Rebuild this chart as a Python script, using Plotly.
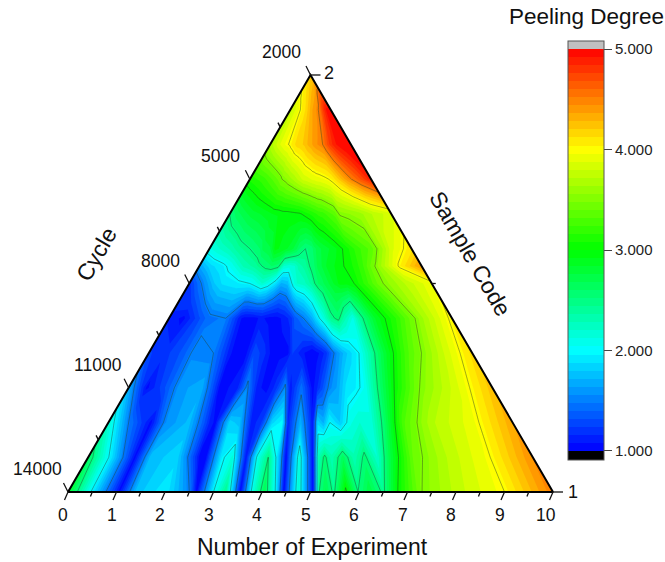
import plotly.graph_objects as go

# Position across each row, expressed on the bottom "Number of Experiment" scale
experiment = [0, .5, 1.05, 1.4, 2.0, 2.5, 2.65, 3.0, 3.25, 3.55, 3.8, 4.05, 4.3, 4.45, 4.75, 5.05,
              5.18, 5.32, 5.48, 5.73, 5.98, 6.22, 6.5, 6.8, 7.3, 8, 9, 10]
cycles = [2000, 3000, 4000, 5000, 6000, 7000, 7500, 8000, 9000, 10000, 11000, 12000, 13000, 14000]

z_2000 = [4.2] * 28
z_3000 = [3.75,3.8,3.85,3.9,3.95,4.0,4.02,4.05,4.08,4.1,4.13,4.17,4.2,4.23,4.27,4.3,4.32,4.34,4.36,4.38,4.4,4.42,4.45,4.48,4.55,4.75,4.95,5.0]
z_4000 = [3.65,3.75,3.85,3.9,3.98,4.02,4.05,4.1,4.15,4.17,4.18,4.2,4.22,4.25,4.3,4.33,4.35,4.38,4.4,4.43,4.45,4.47,4.5,4.6,4.75,4.9,5.0,5.0]
z_5000 = [3.1,3.15,3.2,3.25,3.35,3.45,3.5,3.55,3.6,3.65,3.7,3.75,3.8,3.83,3.85,3.88,3.9,3.9,3.92,3.93,3.95,3.97,4.0,4.05,4.2,4.4,4.65,4.9]
z_6000 = [2.5,2.65,2.75,2.8,2.85,2.9,2.92,2.93,2.95,2.95,2.96,2.97,2.98,3.0,3.05,3.1,3.12,3.15,3.18,3.2,3.25,3.3,3.35,3.52,3.55,3.6,3.75,3.85]
z_7000 = [2.1,2.2,2.3,2.4,2.5,2.6,2.7,2.75,2.95,2.9,2.85,2.8,2.7,2.6,2.5,2.55,2.65,2.7,2.75,2.8,2.85,2.9,2.98,3.05,3.2,3.35,3.85,4.1]
z_7500 = [1.65,1.85,1.95,2.05,2.3,2.4,2.45,2.55,2.6,2.55,2.2,2.15,2.2,2.3,2.4,2.55,2.6,2.7,2.75,2.85,2.9,2.95,3.0,3.05,3.2,3.55,4.03,4.4]
z_8000 = [1.2,1.5,1.8,1.9,1.95,2.0,2.05,2.2,2.1,1.9,1.7,1.75,2.1,2.2,2.25,2.4,2.5,2.6,2.65,2.75,2.85,2.95,2.95,3.0,3.2,3.5,3.75,3.95]
z_9000 = [1.15,1.05,1.3,1.45,1.5,1.1,1.05,1.05,1.1,1.05,1.05,1.1,1.2,1.35,1.5,1.7,1.85,2.0,2.15,2.45,2.55,2.3,2.1,2.45,2.85,3.15,3.65,4.05]
z_10000 = [1.25,1.2,1.35,1.55,1.5,1.1,1.05,1.05,1.3,1.2,1.05,1.05,1.05,1.25,1.1,1.0,1.05,1.1,1.2,1.5,1.7,1.85,2.0,2.3,2.8,3.3,3.75,4.15]
z_11000 = [1.7,1.05,1.35,1.6,1.7,1.05,1.05,1.15,1.55,1.1,1.05,1.2,1.55,1.1,1.45,1.05,1.15,1.3,1.5,1.65,1.9,1.95,2.05,2.45,3.0,3.5,3.85,4.25]
z_12000 = [2.2,1.5,1.05,1.55,1.75,1.15,1.05,1.85,1.75,1.1,1.25,1.85,2.0,1.15,1.7,1.1,1.85,1.7,2.0,1.8,2.1,2.2,2.15,2.55,3.3,3.7,3.93,4.35]
z_13000 = [2.65,1.95,1.05,1.75,1.85,1.05,1.05,1.95,2.15,1.1,2.05,2.5,1.75,1.05,2.15,1.05,2.3,2.55,2.3,2.65,2.3,2.55,2.2,2.75,3.4,3.7,3.98,4.45]
z_14000 = [2.85,1.95,1.05,1.75,1.95,1.5,1.05,2.0,2.45,1.05,2.1,2.7,1.9,1.05,2.2,1.05,2.5,2.7,2.45,3.05,2.5,2.75,2.45,3.0,3.5,3.75,4.0,4.5]
peeling = [z_2000, z_3000, z_4000, z_5000, z_6000, z_7000, z_7500, z_8000, z_9000, z_10000,
           z_11000, z_12000, z_13000, z_14000]

bottom_ticks = [0, 1, 2, 3, 4, 5, 6, 7, 8, 9, 10]
cycle_ticks = [2000, 5000, 8000, 11000, 14000]
colorbar_ticks = [1, 2, 3, 4, 5]

W, H = 665, 562
PX_X = 48.5            # pixels per experiment unit
PX_Y = 417 / 12000     # pixels per cycle
X_RANGE = [-68 / PX_X, (W - 68) / PX_X]
Y_RANGE = [14000 + (H - 492) / PX_Y, 14000 - 492 / PX_Y]
FONT = "Liberation Sans"


def frac(c):
    return (14000 - c) / 12000


def left_edge(c):
    return 5 * frac(c)


def right_edge(c):
    return 10 - 5 * frac(c)


xs = [[5 + (e - 5) * (1 - frac(c)) for e in experiment] for c in cycles]
ys = [[c for _ in experiment] for c in cycles]

colorscale = [
    [0, "#000000"], [0.0215, "#000000"], [0.0216, "#0000ff"],
    [0.2613, "#00ffff"], [0.5011, "#00ff00"], [0.7410, "#ffff00"],
    [0.9808, "#ff0000"], [0.9809, "#c0c0c0"], [1, "#c0c0c0"],
]

fig = go.Figure()
fig.add_trace(go.Carpet(
    a=experiment, b=cycles, x=xs, y=ys, carpet="tri",
    aaxis=dict(showgrid=False, showticklabels="none", showline=False, minorgridcount=0, startline=False, endline=False),
    baxis=dict(showgrid=False, showticklabels="none", showline=False, minorgridcount=0, startline=False, endline=False),
    xaxis="x", yaxis="y",
))
fig.add_trace(go.Contourcarpet(
    a=experiment, b=cycles, z=peeling, carpet="tri", autocontour=False,
    contours=dict(coloring="fill", start=0.92, end=5.08, size=0.08, showlines=False),
    line=dict(width=0, smoothing=0), colorscale=colorscale, zauto=False, zmin=0.91, zmax=5.08,
    colorbar=dict(
        lenmode="pixels", len=419, thicknessmode="pixels", thickness=36,
        x=568 / W, xanchor="left", xpad=0,
        y=1 - 41 / H, yanchor="top", ypad=0,
        outlinecolor="#555555", outlinewidth=1, ticks="outside", ticklen=8, tickcolor="#444444",
        tickvals=colorbar_ticks, tickformat=".3f", tickfont=dict(family=FONT, size=15, color="#222222"),
    ),
))
fig.add_trace(go.Contourcarpet(
    a=experiment, b=cycles, z=peeling, carpet="tri", autocontour=False,
    contours=dict(coloring="none", start=1.5, end=4.5, size=0.5),
    line=dict(width=0.8, color="rgba(40,60,40,0.55)", smoothing=0), showscale=False,
))

# triangle outline
fig.add_trace(go.Scatter(
    x=[left_edge(14000), left_edge(2000), right_edge(14000), left_edge(14000)],
    y=[14000, 2000, 14000, 14000], mode="lines", line=dict(color="#000000", width=2),
    hoverinfo="skip", showlegend=False,
))

# ticks
tx, ty = [], []
def tick(x, y, dx_px, dy_px):
    tx.extend([x, x + dx_px / PX_X, None])
    ty.extend([y, y - dy_px / PX_Y, None])

for i in range(21):
    v = i / 2
    major = i % 2 == 0
    tick(v, 14000, -3.5 if major else -1.8, -8 if major else -4.5)
for i in range(9):
    c = 2000 + 1500 * i
    major = i % 2 == 0
    tick(left_edge(c), c, -4.5 if major else -2.2, 9 if major else 4.5)
tick(right_edge(2000), 2000, 10, 0)
tick(right_edge(14000), 14000, 10, 0)
tick(right_edge(8000), 8000, 4, 0)
fig.add_trace(go.Scatter(x=tx, y=ty, mode="lines", line=dict(color="#111111", width=1.3),
                         hoverinfo="skip", showlegend=False))

ann = []
def label(x, y, text, xs_=0, ys_=0, size=17.5, angle=0):
    ann.append(dict(x=x, y=y, xref="x", yref="y", text=text, showarrow=False, xshift=xs_, yshift=ys_,
                    textangle=angle, font=dict(family=FONT, size=size, color="#111111")))

for v in bottom_ticks:
    label(v, 14000, str(v), -5 if v < 10 else -7, -23)
for c in cycle_ticks:
    label(left_edge(c), c, str(c), -29 if c < 10000 else -31, 23)
label(right_edge(2000), 2000, "2", 18, 2, 18)
label(right_edge(14000), 14000, "1", 20, 0, 18)
label(5, 14000, "Number of Experiment", 2, -55, 23)
label(left_edge(8000), 8000, "Cycle", -93, 30, 23, -60)
label(right_edge(8000), 8000, "Sample Code", 39, 30, 23, 60)
ann.append(dict(x=586 / W, y=1 - 17 / H, xref="paper", yref="paper",
                xanchor="center", yanchor="middle",
                text="Peeling Degree", showarrow=False, font=dict(family=FONT, size=22.5, color="#111111")))

fig.update_layout(
    width=W, height=H, margin=dict(l=0, r=0, t=0, b=0), paper_bgcolor="white", plot_bgcolor="white",
    xaxis=dict(range=X_RANGE, visible=False, domain=[0, 1], fixedrange=True),
    yaxis=dict(range=Y_RANGE, visible=False, domain=[0, 1], fixedrange=True),
    showlegend=False, annotations=ann,
)
fig.write_html("out.html", config={"displayModeBar": False},
               post_script="document.body.style.margin='0';document.body.style.overflow='hidden';")
